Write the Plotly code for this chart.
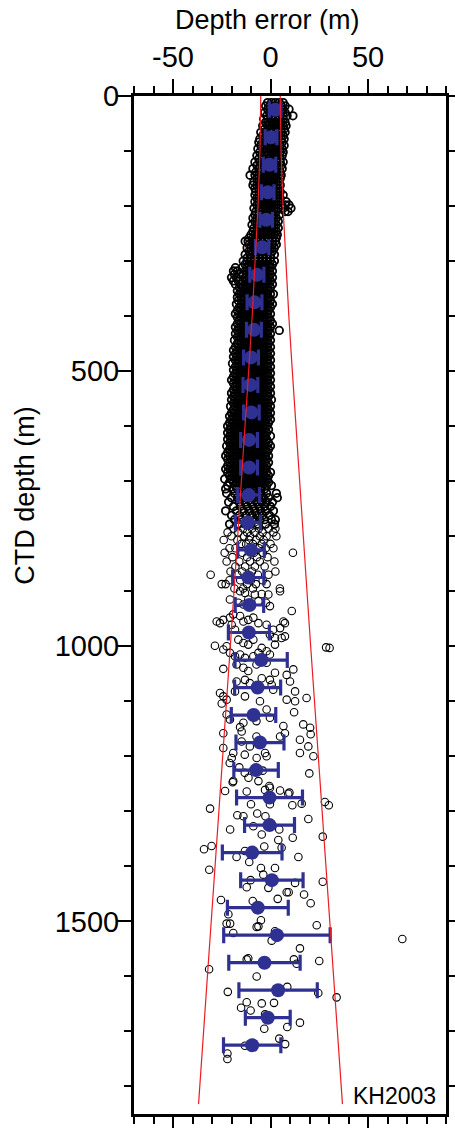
import plotly.graph_objects as go

# ---------------- data ----------------
# binned means (blue) : depth (m), mean depth error (m), std (m)
bin_depth = [25, 75, 125, 175, 225, 275, 325, 375, 425, 475, 525, 575, 625, 675, 725,
             775, 825, 875, 925, 975, 1025, 1075, 1125, 1175, 1225, 1275, 1325, 1375,
             1425, 1475, 1525, 1575, 1625, 1675, 1725]
bin_mean = [2.4, 0.3, -0.5, -1.4, -2.2, -4.3, -7.0, -8.2, -8.5, -10.0, -10.3, -9.8, -11.0,
            -11.0, -11.2, -11.6, -10.0, -11.4, -10.8, -11.1, -4.8, -6.6, -8.7, -5.4, -7.4,
            -0.5, -0.5, -9.4, 0.7, -6.5, 3.3, -3.1, 3.9, -1.4, -9.4]
bin_std = [3.0, 3.0, 3.2, 3.2, 3.2, 3.4, 3.6, 3.8, 3.8, 3.8, 3.8, 4.0, 4.3, 4.3, 5.6,
           6.4, 6.8, 8.0, 7.3, 10.5, 13.4, 11.8, 11.4, 12.3, 11.4, 16.9, 12.8, 15.3,
           16.0, 15.6, 27.3, 18.3, 20.1, 11.5, 14.7]

# red envelope lines
env_depth = [0, 100, 200, 300, 400, 500, 600, 700, 800, 900, 1000, 1100, 1200, 1300,
             1400, 1500, 1600, 1700, 1800, 1832]
env_right = [5.0, 5.4, 6.4, 7.8, 9.4, 11.2, 13.0, 14.9, 16.8, 18.7, 20.6, 22.6, 24.5,
             26.5, 28.4, 30.4, 32.4, 34.4, 36.3, 36.9]
env_left = [-5.0, -5.4, -6.4, -7.8, -9.4, -11.2, -13.0, -14.9, -16.8, -18.7, -20.6, -22.6,
            -24.5, -26.5, -28.4, -30.4, -32.4, -34.4, -36.3, -36.9]

# individual casts (open circles): dense upper band, one row per depth
band_rows = [
    (12, [-1.5, 0.5, 2.5, 4.5, 6.5]),
    (18, [-2.5, -0.5, 1.5, 3.5, 5.5, 7.5]),
    (24, [-1.5, 0.5, 2.5, 4.5, 6.5, 9.5]),
    (30, [-3.0, -0.5, 1.5, 3.5, 5.5, 7.5]),
    (36, [-2.0, 0.5, 2.5, 4.5, 6.5, 8.5, 11.5]),
    (42, [-3.5, -1.5, 0.5, 2.5, 4.5, 6.5]),
    (48, [-2.5, -0.5, 1.5, 3.5, 5.5, 7.5]),
    (54, [-4.0, -1.5, 0.5, 2.5, 4.5, 6.5, 8.0]),
    (60, [-3.0, -0.5, 1.5, 3.5, 5.5, 7.0]),
    (66, [-5.0, -2.5, -0.5, 1.5, 3.5, 5.5, 7.5]),
    (72, [-4.0, -1.5, 0.5, 2.5, 4.5, 6.5]),
    (78, [-5.5, -3.0, -0.5, 1.5, 3.5, 5.5, 7.0]),
    (84, [-6.0, -4.0, -2.0, 0.0, 2.0, 4.0, 6.0]),
    (90, [-5.0, -3.0, -1.0, 1.0, 3.0, 5.0, 7.0]),
    (96, [-6.5, -4.0, -2.0, 0.0, 2.0, 4.0, 6.0]),
    (102, [-5.5, -3.0, -1.0, 1.0, 3.0, 5.0, 6.5]),
    (108, [-7.0, -4.5, -2.0, 0.0, 2.0, 4.0, 6.0]),
    (114, [-6.0, -3.5, -1.0, 1.0, 3.0, 5.0]),
    (120, [-8.0, -5.5, -3.0, -1.0, 1.0, 3.0, 5.0, 6.5]),
    (126, [-7.0, -4.5, -2.0, 0.0, 2.0, 4.0, 5.5]),
    (132, [-9.0, -6.0, -4.0, -2.0, 0.0, 2.0, 4.0, 6.0]),
    (138, [-7.5, -5.0, -3.0, -1.0, 1.0, 3.0, 5.0]),
    (144, [-10.5, -8.0, -6.0, -4.0, -2.0, 0.0, 2.0, 4.0, 5.5]),
    (150, [-7.0, -5.0, -3.0, -1.0, 1.0, 3.0, 5.0]),
    (156, [-8.5, -6.0, -4.0, -2.0, 0.0, 2.0, 4.0]),
    (162, [-9.0, -7.0, -5.0, -3.0, -1.0, 1.0, 3.0, 5.0]),
    (168, [-8.0, -6.0, -4.0, -2.0, 0.0, 2.0, 4.0]),
    (174, [-7.5, -5.0, -3.0, -1.0, 1.0, 3.0, 5.0]),
    (180, [-8.0, -6.0, -4.0, -2.0, 0.0, 2.0, 4.0, 6.5]),
    (186, [-7.0, -5.0, -3.0, -1.0, 1.0, 3.0, 5.0]),
    (192, [-8.0, -6.0, -4.0, -2.0, 0.0, 2.0, 4.0, 8.0]),
    (198, [-7.0, -5.0, -3.0, -1.0, 1.0, 3.0, 5.5, 7.5, 9.5]),
    (204, [-8.5, -6.0, -4.0, -2.0, 0.0, 2.0, 4.0, 6.5, 10.5]),
    (210, [-7.5, -5.0, -3.0, -1.0, 1.0, 3.0, 7.5, 9.0]),
    (216, [-8.0, -6.0, -4.0, -2.0, 0.0, 2.0, 4.5]),
    (222, [-9.0, -7.0, -5.0, -3.0, -1.0, 1.0, 3.0]),
    (228, [-8.0, -6.0, -4.0, -2.0, 0.0, 2.0, 4.0]),
    (234, [-9.5, -7.0, -5.0, -3.0, -1.0, 1.0, 3.0]),
    (240, [-8.5, -6.0, -4.0, -2.0, 0.0, 2.0, 4.0]),
    (246, [-9.0, -7.0, -5.0, -3.0, -1.0, 1.0, 3.0]),
    (252, [-10.0, -8.0, -6.0, -4.0, -2.0, 0.0, 2.0, 3.5]),
    (258, [-11.0, -9.0, -7.0, -5.0, -3.0, -1.0, 1.0, 3.0]),
    (264, [-13.0, -11.5, -9.0, -7.0, -5.0, -3.0, -1.0, 1.0, 2.5]),
    (270, [-11.0, -9.0, -7.0, -5.0, -3.0, -1.0, 1.0, 3.0]),
    (276, [-12.0, -10.0, -8.0, -6.0, -4.0, -2.0, 0.0, 2.0]),
    (282, [-11.0, -9.0, -7.0, -5.0, -3.0, -1.0, 1.0]),
    (288, [-13.0, -10.5, -8.0, -6.0, -4.0, -2.0, 0.0, 2.0]),
    (294, [-12.0, -10.0, -8.0, -6.0, -4.0, -2.0, 0.0]),
    (300, [-14.0, -12.0, -10.0, -8.0, -6.0, -4.0, -2.0, 0.0, 2.0]),
    (306, [-13.0, -11.0, -9.0, -7.0, -5.0, -3.0, -1.0, 1.0]),
    (312, [-18.0, -14.5, -12.0, -10.0, -8.0, -6.0, -4.0, -2.0, 0.0]),
    (318, [-19.0, -17.0, -13.0, -11.0, -9.0, -7.0, -5.0, -3.0, -1.0, 1.0]),
    (324, [-18.5, -16.0, -14.0, -12.0, -10.0, -8.0, -6.0, -4.0, -2.0, 0.0]),
    (330, [-20.0, -17.5, -13.0, -11.0, -9.0, -7.0, -5.0, -3.0, -1.0, 1.0]),
    (336, [-19.0, -16.5, -14.0, -12.0, -10.0, -8.0, -6.0, -4.0, -2.0, 0.0]),
    (342, [-18.0, -15.0, -13.0, -11.0, -9.0, -7.0, -5.0, -3.0, -1.0, 1.0]),
    (348, [-16.0, -14.0, -12.0, -10.0, -8.0, -6.0, -4.0, -2.0, 0.0]),
    (354, [-17.0, -15.0, -13.0, -11.0, -9.0, -7.0, -5.0, -3.0, -1.0]),
    (360, [-16.0, -14.0, -12.0, -10.0, -8.0, -6.0, -4.0, -2.0, 0.0, 1.5]),
    (366, [-17.0, -15.0, -13.0, -11.0, -9.0, -7.0, -5.0, -3.0, -1.0]),
    (372, [-16.5, -14.0, -12.0, -10.0, -8.0, -6.0, -4.0, -2.0, 0.0]),
    (378, [-17.5, -15.0, -13.0, -11.0, -9.0, -7.0, -5.0, -3.0, -1.0, 1.0]),
    (384, [-16.0, -14.0, -12.0, -10.0, -8.0, -6.0, -4.0, -2.0, 0.0]),
    (390, [-17.0, -15.0, -13.0, -11.0, -9.0, -7.0, -5.0, -3.0, -1.0]),
    (396, [-18.0, -16.0, -14.0, -12.0, -10.0, -8.0, -6.0, -4.0, -2.0, 0.0]),
    (402, [-17.0, -15.0, -13.0, -11.0, -9.0, -7.0, -5.0, -3.0, -1.0]),
    (408, [-16.0, -14.0, -12.0, -10.0, -8.0, -6.0, -4.0, -2.0, 0.0]),
    (414, [-17.0, -15.0, -13.0, -11.0, -9.0, -7.0, -5.0, -3.0, -1.0, 1.0]),
    (420, [-18.0, -16.0, -14.0, -12.0, -10.0, -8.0, -6.0, -4.0, -2.0, 0.0]),
    (426, [-17.0, -15.0, -13.0, -11.0, -9.0, -7.0, -5.0, -3.0, -1.0, 4.5]),
    (432, [-18.0, -16.0, -14.0, -12.0, -10.0, -8.0, -6.0, -4.0, -2.0, 0.0]),
    (438, [-17.0, -15.0, -13.0, -11.0, -9.0, -7.0, -5.0, -3.0, -1.0]),
    (444, [-18.5, -16.0, -14.0, -12.0, -10.0, -8.0, -6.0, -4.0, -2.0, 0.0]),
    (450, [-17.0, -15.0, -13.0, -11.0, -9.0, -7.0, -5.0, -3.0, -1.0]),
    (456, [-18.0, -16.0, -14.0, -12.0, -10.0, -8.0, -6.0, -4.0, -2.0, 0.0]),
    (462, [-19.0, -17.0, -15.0, -13.0, -11.0, -9.0, -7.0, -5.0, -3.0, -1.0]),
    (468, [-18.0, -16.0, -14.0, -12.0, -10.0, -8.0, -6.0, -4.0, -2.0, 0.0]),
    (474, [-19.0, -17.0, -15.0, -13.0, -11.0, -9.0, -7.0, -5.0, -3.0, -1.0]),
    (480, [-18.0, -16.0, -14.0, -12.0, -10.0, -8.0, -6.0, -4.0, -2.0, 0.0]),
    (486, [-19.5, -17.0, -15.0, -13.0, -11.0, -9.0, -7.0, -5.0, -3.0, -1.0]),
    (492, [-18.0, -16.0, -14.0, -12.0, -10.0, -8.0, -6.0, -4.0, -2.0, 0.0]),
    (498, [-19.0, -17.0, -15.0, -13.0, -11.0, -9.0, -7.0, -5.0, -3.0, -1.0]),
    (504, [-18.0, -16.0, -14.0, -12.0, -10.0, -8.0, -6.0, -4.0, -2.0, 0.0]),
    (510, [-19.0, -17.0, -15.0, -13.0, -11.0, -9.0, -7.0, -5.0, -3.0, -1.0]),
    (516, [-20.0, -18.0, -16.0, -14.0, -12.0, -10.0, -8.0, -6.0, -4.0, -2.0, 0.0]),
    (522, [-19.0, -17.0, -15.0, -13.0, -11.0, -9.0, -7.0, -5.0, -3.0, -1.0]),
    (528, [-18.0, -16.0, -14.0, -12.0, -10.0, -8.0, -6.0, -4.0, -2.0, 0.0]),
    (534, [-19.0, -17.0, -15.0, -13.0, -11.0, -9.0, -7.0, -5.0, -3.0, -1.0]),
    (540, [-20.0, -18.0, -16.0, -14.0, -12.0, -10.0, -8.0, -6.0, -4.0, -2.0, 0.0]),
    (546, [-19.0, -17.0, -15.0, -13.0, -11.0, -9.0, -7.0, -5.0, -3.0, -1.0]),
    (552, [-20.0, -18.0, -16.0, -14.0, -12.0, -10.0, -8.0, -6.0, -4.0, -2.0, 0.5]),
    (558, [-19.0, -17.0, -15.0, -13.0, -11.0, -9.0, -7.0, -5.0, -3.0, -1.0]),
    (564, [-20.5, -18.0, -16.0, -14.0, -12.0, -10.0, -8.0, -6.0, -4.0, -2.0, 0.0]),
    (570, [-19.0, -17.0, -15.0, -13.0, -11.0, -9.0, -7.0, -5.0, -3.0, -1.0]),
    (576, [-20.0, -18.0, -16.0, -14.0, -12.0, -10.0, -8.0, -6.0, -4.0, -2.0, 0.0]),
    (582, [-21.0, -19.0, -17.0, -15.0, -13.0, -11.0, -9.0, -7.0, -5.0, -3.0, -1.0]),
    (588, [-20.0, -18.0, -16.0, -14.0, -12.0, -10.0, -8.0, -6.0, -4.0, -2.0, 0.0]),
    (594, [-21.0, -19.0, -17.0, -15.0, -13.0, -11.0, -9.0, -7.0, -5.0, -3.0, -1.0]),
    (600, [-22.0, -20.0, -18.0, -16.0, -14.0, -12.0, -10.0, -8.0, -6.0, -4.0, -2.0]),
    (606, [-21.0, -19.0, -17.0, -15.0, -13.0, -11.0, -9.0, -7.0, -5.0, -3.0, -1.0]),
    (612, [-22.0, -20.0, -18.0, -16.0, -14.0, -12.0, -10.0, -8.0, -6.0, -4.0, -2.0]),
    (618, [-21.0, -19.0, -17.0, -15.0, -13.0, -11.0, -9.0, -7.0, -5.0, -3.0, 0.0]),
    (624, [-22.0, -20.0, -18.0, -16.0, -14.0, -12.0, -10.0, -8.0, -6.0, -4.0, -2.0]),
    (630, [-21.0, -19.0, -17.0, -15.0, -13.0, -11.0, -9.0, -7.0, -5.0, -3.0, -1.0]),
    (636, [-22.5, -20.0, -18.0, -16.0, -14.0, -12.0, -10.0, -8.0, -6.0, -4.0, -2.0, 0.0]),
    (642, [-21.0, -19.0, -17.0, -15.0, -13.0, -11.0, -9.0, -7.0, -5.0, -3.0, -1.0]),
    (648, [-22.0, -20.0, -18.0, -16.0, -14.0, -12.0, -10.0, -8.0, -6.0, -4.0, -2.0]),
    (654, [-23.0, -21.0, -19.0, -17.0, -15.0, -13.0, -11.0, -9.0, -7.0, -5.0, -3.0, -1.0]),
    (660, [-22.0, -20.0, -18.0, -16.0, -14.0, -12.0, -10.0, -8.0, -6.0, -4.0, -2.0]),
    (666, [-21.0, -19.0, -17.0, -15.0, -13.0, -11.0, -9.0, -7.0, -5.0, -3.0, -1.0]),
    (672, [-22.0, -20.0, -18.0, -16.0, -14.0, -12.0, -10.0, -8.0, -6.0, -4.0, -2.0]),
    (678, [-23.0, -21.0, -19.0, -17.0, -15.0, -13.0, -11.0, -9.0, -7.0, -5.0, -3.0]),
    (684, [-22.0, -20.0, -18.0, -16.0, -14.0, -12.0, -10.0, -8.0, -6.0, -4.0, -2.0, 0.0]),
    (690, [-21.0, -19.0, -17.0, -15.0, -13.0, -11.0, -9.0, -7.0, -5.0, -3.0, -1.0]),
    (696, [-23.5, -20.0, -18.0, -16.0, -14.0, -12.0, -10.0, -8.0, -6.0, -4.0, -2.0]),
    (702, [-21.0, -19.0, -17.0, -15.0, -13.0, -11.0, -9.0, -7.0, -5.0, -3.0, -1.0]),
    (708, [-22.0, -18.0, -16.0, -14.0, -12.0, -10.0, -8.0, -6.0, -4.0, -2.0, 0.5]),
    (714, [-23.0, -19.0, -17.0, -15.0, -13.0, -11.0, -9.0, -7.0, -5.0, -3.0]),
    (722, [-22.5, -18.5, -15.0, -12.5, -10.0, -7.5, -5.0, -2.0, 3.0]),
    (730, [-20.0, -17.0, -14.0, -11.0, -8.5, -6.0, -3.5, -1.0, 3.5]),
    (738, [-21.5, -16.0, -13.0, -10.0, -7.0, -4.5, -2.0, 1.0]),
    (746, [-19.0, -15.5, -12.0, -9.0, -6.0, -3.0, 0.0]),
    (754, [-23.0, -17.5, -14.0, -11.0, -8.0, -5.0, -2.5, 1.5]),
    (762, [-20.0, -16.0, -12.5, -9.5, -7.0, -4.0, -0.5]),
    (770, [-18.5, -15.0, -11.5, -8.0, -5.5, -3.0, 0.5, 2.5]),
    (778, [-21.0, -16.5, -13.0, -10.0, -6.5, -2.5, 2.0]),
]

# looser casts between ~780 and 900 m
loose_rows = [
    (786, [-19.0, -14.0, -9.5, -6.0, -1.0, 2.5]),
    (793, [-22.0, -16.5, -12.0, -8.0, -4.0, 1.5]),
    (800, [-20.0, -13.5, -10.5, -5.5, -2.0, 3.0]),
    (807, [-24.0, -17.0, -11.0, -7.5, -3.5]),
    (814, [-15.0, -12.5, -9.0, -4.5, 0.0]),
    (822, [-21.0, -18.0, -10.0, -6.0, -2.5, 1.5]),
    (830, [-23.5, -14.5, -8.5, -4.0, 11.5]),
    (838, [-19.5, -12.0, -7.0, -1.5]),
    (846, [-22.5, -16.0, -10.5, -5.5, 2.0]),
    (855, [-18.0, -13.0, -8.0, -3.0]),
    (864, [-20.5, -14.5, -9.5, 2.5]),
    (870, [-30.7, -17.0, -11.5, -6.5, -1.0]),
    (880, [-21.0, -15.5, -10.0, -4.0]),
    (887, [-25.0, -23.0, -12.0, -7.5, -2.0]),
    (895, [-18.5, -14.0, -9.0, 4.8]),
]

# sparse casts below ~900 m: depth (m), depth error (m)
sparse_depth = [
    900, 903, 906, 905, 906, 900, 915, 921, 924, 915, 918, 921, 927, 936,
    952, 955, 958, 948, 942, 945, 955, 952, 948, 958, 961, 970, 961, 970, 967, 955, 958, 982, 985, 979, 985,
    999, 1006, 1000, 988, 994, 997, 988, 1003, 1009, 997, 1012, 1018, 1015, 1021, 1018, 1012, 1015,
    1002, 1003, 1041, 1033, 1039, 1045, 1033, 1030, 1048, 1052, 1064, 1042,
    1085, 1091, 1104, 1064, 1061, 1067, 1058, 1061, 1070, 1079, 1097, 1082, 1100, 1094, 1097, 1082, 1091, 1100,
    1124, 1133, 1139, 1147, 1155, 1136, 1130, 1120, 1142, 1148, 1115, 1145, 1160,
    1158, 1185, 1194, 1203, 1173, 1182, 1194, 1200, 1158, 1164, 1170, 1182, 1194, 1200, 1164,
    1212, 1197, 1203, 1239, 1245, 1254, 1266, 1230, 1231, 1247, 1220, 1226,
    1245, 1263, 1264, 1261, 1257, 1262, 1268, 1295, 1287, 1287, 1289, 1286, 1283, 1289,
    1307, 1309, 1304, 1309, 1314, 1333, 1327, 1342, 1333, 1352, 1348, 1346,
    1369, 1363, 1383, 1372, 1392, 1364, 1366, 1383, 1406, 1403, 1415, 1403,
    1425, 1438, 1439, 1430, 1447, 1447, 1428, 1461, 1463, 1459, 1451, 1467,
    1487, 1504, 1504, 1498, 1509, 1510, 1521, 1518, 1535, 1507, 1549, 1532,
    1587, 1569, 1567, 1600, 1569, 1577, 1572, 1628, 1619, 1630, 1638,
    1647, 1657, 1662, 1649, 1648, 1669, 1695, 1692, 1684, 1713, 1723, 1726, 1740, 1750,
]
sparse_err = [
    -15.6, -13.1, -8.0, -4.5, -1.1, 4.9, -20.8, -16.5, -13.9, -11.4, -6.2, -2.3, -0.3, 10.9,
    -24.2, -27.6, -25.9, -20.8, -19.1, -15.6, -13.9, -11.4, -8.8, -6.2, -19.9, -18.2, -2.0, 1.4, 4.9, 6.6, 7.4, 7.4, 5.7, -0.3, 2.3,
    -28.5, -24.2, -22.5, -16.5, -13.9, -11.4, -8.8, -4.5, -2.0, 2.3, -20.8, -18.2, -15.6, -13.1, -8.8, -6.2, -0.3,
    28.5, 30.3, -24.2, -17.4, -13.9, -11.4, -7.2, -2.0, 2.3, 8.3, 10.0, 11.7,
    -25.9, -24.2, -25.0, -17.4, -13.1, -10.6, -4.5, -0.3, 0.6, 1.4, 8.3, 12.6, 12.6, 18.5, -22.5, -18.2, -13.1, -5.4,
    -22.5, -20.8, -13.9, -15.6, -14.8, -7.2, -0.3, 12.1, 16.8, 20.3, -2.0, 6.6, 20.6,
    -24.2, -24.2, -19.1, -19.9, -14.8, -10.6, -2.8, -2.0, 7.4, 4.9, 15.1, 19.4, 15.1, 22.0, -7.2,
    -20.9, -13.2, -7.1, -11.3, -6.2, -0.6, 9.7, -13.2, 19.9, -19.4, -16.0, -4.0,
    -19.1, -23.3, -12.2, -2.8, -0.3, 4.9, 9.1, -31.0, -10.0, -0.3, 11.2, 16.0, 27.9, 29.9,
    -17.0, -13.9, -6.8, -2.6, 19.4, -20.7, -8.8, -4.5, 4.5, 4.0, 11.4, 26.8,
    -34.1, -30.2, -17.4, -13.1, -10.9, -3.2, 5.7, 14.3, -31.4, -4.9, -3.7, 2.3,
    -10.2, -12.2, -1.1, 12.6, 8.3, 9.3, 26.8, -25.4, -9.1, 3.7, 17.2, 20.6,
    -21.6, -22.5, -20.7, -4.9, -6.2, -7.1, -19.1, 2.3, 0.6, 23.7, 15.1, 67.6,
    -31.5, -12.2, -11.4, -7.1, 12.0, 13.4, 25.0, -21.9, 8.6, 24.5, 33.9,
    -12.2, -15.1, -10.2, -4.5, 1.8, -2.8, -3.2, 8.6, 15.1, 4.5, 7.5, -13.1, -22.1, -22.1,
]

# tick labels
x_tickvals = [-50, 0, 50]
x_ticktext = ["-50", "0", "50"]
y_tickvals = [0, 500, 1000, 1500]
y_ticktext = ["0", "500", "1000", "1500"]

# ---------------- build figure ----------------
dense_depth = [d for d, row in band_rows for _ in row]
dense_err = [v for d, row in band_rows for v in row]
open_depth = [d for d, row in loose_rows for _ in row] + sparse_depth
open_err = [v for d, row in loose_rows for v in row] + sparse_err

BLUE = "#2e3192"
RED = "#ec1c24"
FONT = "Liberation Sans, Arial, Helvetica, sans-serif"

fig = go.Figure()

fig.add_trace(go.Scatter(
    x=dense_err, y=dense_depth, mode="markers",
    marker=dict(symbol="circle-open", size=7.5, color="black", line=dict(width=1.8, color="black")),
    hoverinfo="skip",
))
fig.add_trace(go.Scatter(
    x=open_err, y=open_depth, mode="markers",
    marker=dict(symbol="circle-open", size=7.5, color="black", line=dict(width=1.1, color="black")),
    hoverinfo="skip",
))

fig.add_trace(go.Scatter(
    x=bin_mean, y=bin_depth, mode="markers",
    marker=dict(symbol="circle", size=14, color=BLUE),
    error_x=dict(type="data", array=bin_std, visible=True, color=BLUE, thickness=3.2, width=8),
))

fig.add_trace(go.Scatter(x=env_left, y=env_depth, mode="lines", line=dict(color=RED, width=1.2)))
fig.add_trace(go.Scatter(x=env_right, y=env_depth, mode="lines", line=dict(color=RED, width=1.2)))

axis_common = dict(
    showline=True, linewidth=3, linecolor="black", mirror="ticks",
    ticks="outside", ticklen=14, tickwidth=2, tickcolor="black",
    showgrid=False, zeroline=False, automargin=False,
    tickfont=dict(family=FONT, size=29, color="black"),
)

fig.update_xaxes(
    side="top", range=[-70, 90], tickmode="array",
    tickvals=x_tickvals, ticktext=x_ticktext, ticklabelstandoff=0,
    minor=dict(dtick=10, tick0=0, ticks="outside", ticklen=7, tickwidth=1.5, tickcolor="black", showgrid=False),
    **axis_common,
)
fig.update_yaxes(
    range=[1850, 0], tickmode="array",
    tickvals=y_tickvals, ticktext=y_ticktext, ticklabelstandoff=-8,
    minor=dict(dtick=100, tick0=0, ticks="outside", ticklen=7, tickwidth=1.5, tickcolor="black", showgrid=False),
    **axis_common,
)

fig.update_layout(
    width=455, height=1128,
    margin=dict(l=134, r=9, t=96, b=14, autoexpand=False),
    plot_bgcolor="white", paper_bgcolor="white",
    showlegend=False,
    font=dict(family=FONT, color="black"),
    annotations=[
        dict(text="Depth error (m)", xref="paper", yref="paper", x=0.429, y=1.0747,
             xanchor="center", yanchor="middle", showarrow=False,
             font=dict(family=FONT, size=27, color="black")),
        dict(text="CTD depth (m)", xref="paper", yref="paper", x=-0.35, y=0.608,
             xanchor="center", yanchor="middle", textangle=-90, showarrow=False,
             font=dict(family=FONT, size=27, color="black")),
        dict(text="KH2003", xref="paper", yref="paper", x=0.975, y=0.018,
             xanchor="right", yanchor="middle", showarrow=False,
             font=dict(family=FONT, size=23, color="black")),
    ],
)

fig.write_html("out.html")
